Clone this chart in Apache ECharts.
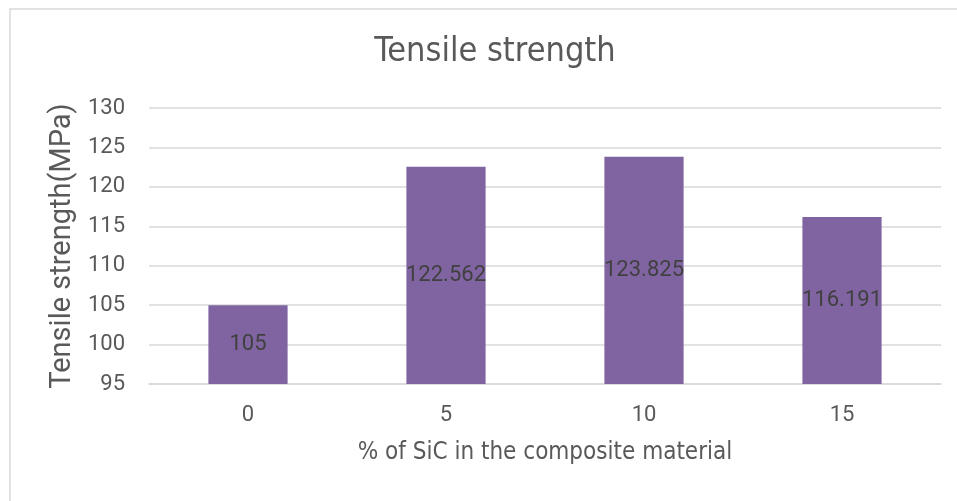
<!DOCTYPE html>
<html>
<head>
<meta charset="utf-8">
<script src="https://cdn.jsdelivr.net/npm/echarts@6/dist/echarts.min.js"></script>
<style>
  html, body { margin: 0; padding: 0; background: #fff; }
  #chart { width: 957px; height: 501px; }
</style>
</head>
<body>
<div id="chart"></div>
<script>
// SiC content (%) in the composite and measured tensile strength (MPa)
const sicPercent = ['0', '5', '10', '15'];
const tensileStrength = [105, 122.562, 123.825, 116.191];
const yTicks = { min: 95, max: 130, interval: 5 };

const textColor = '#595959';
const numFont = 'Roboto, "Noto Sans", sans-serif';
const nameFont = '"Liberation Sans Narrow", "DejaVu Sans Condensed", Roboto, sans-serif';

const chart = echarts.init(document.getElementById('chart'), null, { renderer: 'canvas' });

chart.setOption({
  backgroundColor: '#ffffff',
  animation: false,
  graphic: [{
    type: 'rect',
    shape: { x: 10, y: 9, width: 960, height: 510 },
    style: { fill: 'none', stroke: '#d9d9d9', lineWidth: 1.5 },
    silent: true,
    z: -1
  }],
  title: {
    text: 'Tensile strength',
    left: 490,
    top: 30,
    textAlign: 'center',
    textStyle: { fontFamily: nameFont, fontSize: 34, fontWeight: 'normal', color: textColor }
  },
  grid: { left: 149, right: 16, top: 108, bottom: 117 },
  xAxis: {
    type: 'category',
    data: sicPercent,
    name: '% of SiC in the composite material',
    nameLocation: 'middle',
    nameGap: 57,
    nameTextStyle: { fontFamily: nameFont, fontSize: 24, color: textColor },
    axisLine: { show: true, lineStyle: { color: '#d9d9d9', width: 1.5 } },
    axisTick: { show: false },
    axisLabel: { margin: 20, fontFamily: numFont, fontSize: 22, color: textColor }
  },
  yAxis: {
    type: 'value',
    min: yTicks.min,
    max: yTicks.max,
    interval: yTicks.interval,
    name: 'Tensile strength(MPa)',
    nameLocation: 'middle',
    nameGap: 70,
    nameTextStyle: { fontFamily: numFont, fontSize: 29, color: textColor },
    axisLine: { show: false },
    axisTick: { show: false },
    axisLabel: { margin: 24, fontFamily: numFont, fontSize: 22, color: textColor },
    splitLine: { lineStyle: { color: '#d9d9d9', width: 1.5 } }
  },
  series: [{
    type: 'bar',
    data: tensileStrength,
    barWidth: '40%',
    itemStyle: { color: '#8064a2' },
    label: {
      show: true,
      position: 'inside',
      fontFamily: numFont,
      fontSize: 22,
      color: '#404040',
      formatter: (p) => String(p.value)
    }
  }]
});
</script>
</body>
</html>
